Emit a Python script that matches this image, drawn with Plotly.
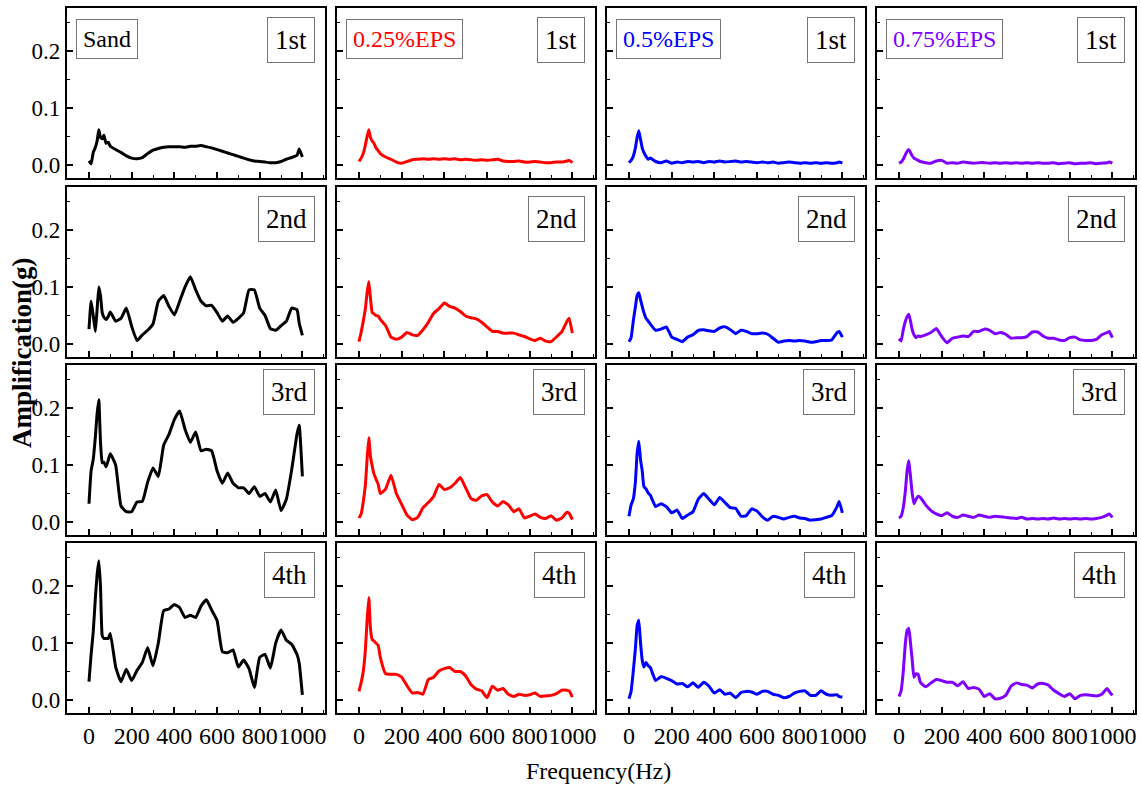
import plotly.graph_objects as go
from plotly.subplots import make_subplots

# ---------------- data ----------------
freq = [0, 10, 20, 30, 38, 46, 54, 62, 70, 80, 90, 100,
        125, 150, 175, 200, 225, 250, 275, 300, 325, 350, 375, 400,
        425, 450, 475, 500, 525, 550, 575, 600, 625, 650, 675, 700,
        725, 750, 775, 800, 825, 850, 875, 900, 925, 950, 975, 985, 1000]

materials = ["Sand", "0.25%EPS", "0.5%EPS", "0.75%EPS"]
orders = ["1st", "2nd", "3rd", "4th"]
colors = ["#000000", "#ff0000", "#0000ff", "#7f00ff"]

sand_1st = [0.007, 0.002, 0.022, 0.031, 0.042, 0.062, 0.048, 0.046, 0.052, 0.038, 0.040, 0.033,
            0.027, 0.022, 0.016, 0.012, 0.011, 0.013, 0.020, 0.026, 0.029, 0.031, 0.032, 0.032,
            0.032, 0.031, 0.033, 0.033, 0.034, 0.032, 0.030, 0.027, 0.024, 0.021, 0.018, 0.015,
            0.012, 0.009, 0.007, 0.006, 0.005, 0.004, 0.004, 0.006, 0.010, 0.013, 0.017, 0.028, 0.014]
sand_2nd = [0.026, 0.075, 0.050, 0.022, 0.060, 0.100, 0.085, 0.055, 0.047, 0.043, 0.048, 0.056,
            0.040, 0.045, 0.063, 0.031, 0.006, 0.016, 0.024, 0.035, 0.075, 0.085, 0.066, 0.051,
            0.075, 0.100, 0.118, 0.095, 0.075, 0.067, 0.068, 0.055, 0.040, 0.049, 0.038, 0.045,
            0.055, 0.095, 0.095, 0.063, 0.050, 0.027, 0.024, 0.032, 0.040, 0.063, 0.060, 0.037, 0.015]
sand_3rd = [0.032, 0.090, 0.110, 0.150, 0.190, 0.215, 0.140, 0.104, 0.105, 0.097, 0.108, 0.120,
            0.100, 0.028, 0.018, 0.018, 0.035, 0.036, 0.070, 0.095, 0.080, 0.135, 0.154, 0.180,
            0.195, 0.163, 0.140, 0.158, 0.125, 0.128, 0.125, 0.090, 0.068, 0.086, 0.068, 0.060,
            0.060, 0.050, 0.062, 0.045, 0.050, 0.035, 0.056, 0.020, 0.040, 0.092, 0.155, 0.170, 0.080]
sand_4th = [0.032, 0.080, 0.120, 0.180, 0.220, 0.245, 0.200, 0.113, 0.108, 0.108, 0.108, 0.117,
            0.058, 0.032, 0.054, 0.034, 0.052, 0.066, 0.092, 0.060, 0.100, 0.157, 0.160, 0.168,
            0.162, 0.145, 0.149, 0.145, 0.165, 0.176, 0.158, 0.140, 0.085, 0.083, 0.088, 0.058,
            0.070, 0.055, 0.022, 0.075, 0.080, 0.056, 0.100, 0.123, 0.105, 0.098, 0.080, 0.065, 0.009]

eps025_1st = [0.006, 0.012, 0.020, 0.035, 0.050, 0.062, 0.048, 0.042, 0.038, 0.030, 0.025, 0.020,
              0.014, 0.010, 0.005, 0.003, 0.006, 0.009, 0.010, 0.011, 0.010, 0.011, 0.010, 0.011,
              0.010, 0.011, 0.009, 0.010, 0.009, 0.008, 0.009, 0.008, 0.009, 0.010, 0.007, 0.006,
              0.006, 0.007, 0.005, 0.005, 0.006, 0.005, 0.004, 0.004, 0.005, 0.005, 0.007, 0.008, 0.004]
eps025_2nd = [0.004, 0.020, 0.040, 0.062, 0.090, 0.110, 0.080, 0.055, 0.053, 0.050, 0.049, 0.043,
              0.032, 0.012, 0.008, 0.012, 0.020, 0.016, 0.015, 0.025, 0.038, 0.054, 0.062, 0.072,
              0.066, 0.063, 0.057, 0.049, 0.046, 0.044, 0.038, 0.030, 0.022, 0.022, 0.019, 0.019,
              0.019, 0.016, 0.013, 0.009, 0.006, 0.010, 0.005, 0.004, 0.012, 0.021, 0.040, 0.045, 0.019]
eps025_3rd = [0.007, 0.014, 0.035, 0.065, 0.110, 0.148, 0.115, 0.098, 0.085, 0.075, 0.066, 0.050,
              0.058, 0.082, 0.050, 0.031, 0.012, 0.004, 0.008, 0.025, 0.034, 0.045, 0.066, 0.057,
              0.060, 0.068, 0.078, 0.060, 0.041, 0.038, 0.046, 0.048, 0.035, 0.028, 0.036, 0.030,
              0.018, 0.023, 0.007, 0.010, 0.014, 0.008, 0.006, 0.011, 0.003, 0.007, 0.017, 0.015, 0.004]
eps025_4th = [0.015, 0.030, 0.050, 0.088, 0.140, 0.180, 0.125, 0.106, 0.104, 0.100, 0.096, 0.075,
              0.046, 0.045, 0.045, 0.040, 0.025, 0.012, 0.013, 0.010, 0.036, 0.040, 0.051, 0.055,
              0.057, 0.050, 0.050, 0.042, 0.027, 0.019, 0.016, 0.004, 0.024, 0.017, 0.020, 0.010,
              0.006, 0.010, 0.008, 0.009, 0.012, 0.006, 0.007, 0.008, 0.011, 0.017, 0.017, 0.016, 0.005]

eps05_1st = [0.004, 0.008, 0.015, 0.030, 0.048, 0.060, 0.045, 0.030, 0.022, 0.015, 0.010, 0.012,
             0.006, 0.004, 0.007, 0.003, 0.005, 0.004, 0.006, 0.005, 0.006, 0.004, 0.006, 0.005,
             0.007, 0.005, 0.006, 0.007, 0.005, 0.006, 0.005, 0.004, 0.005, 0.004, 0.005, 0.003,
             0.004, 0.005, 0.004, 0.003, 0.004, 0.003, 0.004, 0.003, 0.004, 0.003, 0.004, 0.005, 0.003]
eps05_2nd = [0.004, 0.011, 0.040, 0.065, 0.085, 0.090, 0.078, 0.066, 0.055, 0.045, 0.040, 0.035,
             0.024, 0.026, 0.030, 0.012, 0.008, 0.004, 0.012, 0.016, 0.024, 0.025, 0.023, 0.022,
             0.028, 0.030, 0.025, 0.018, 0.024, 0.022, 0.018, 0.018, 0.019, 0.017, 0.010, 0.003,
             0.005, 0.006, 0.005, 0.006, 0.005, 0.003, 0.004, 0.006, 0.006, 0.007, 0.020, 0.022, 0.012]
eps05_3rd = [0.010, 0.030, 0.040, 0.070, 0.120, 0.142, 0.110, 0.090, 0.062, 0.058, 0.051, 0.047,
             0.027, 0.032, 0.027, 0.016, 0.021, 0.006, 0.012, 0.018, 0.040, 0.050, 0.040, 0.030,
             0.043, 0.034, 0.025, 0.024, 0.010, 0.011, 0.023, 0.019, 0.009, 0.003, 0.010, 0.008,
             0.005, 0.008, 0.010, 0.007, 0.006, 0.003, 0.004, 0.005, 0.008, 0.011, 0.027, 0.036, 0.016]
eps05_4th = [0.002, 0.015, 0.050, 0.090, 0.130, 0.140, 0.101, 0.070, 0.058, 0.066, 0.060, 0.057,
             0.034, 0.041, 0.038, 0.034, 0.028, 0.029, 0.023, 0.030, 0.022, 0.031, 0.024, 0.012,
             0.018, 0.010, 0.012, 0.004, 0.013, 0.015, 0.014, 0.010, 0.015, 0.015, 0.010, 0.008,
             0.004, 0.006, 0.012, 0.015, 0.016, 0.008, 0.008, 0.016, 0.010, 0.008, 0.009, 0.006, 0.005]

eps075_1st = [0.003, 0.005, 0.010, 0.018, 0.024, 0.027, 0.022, 0.016, 0.012, 0.010, 0.008, 0.006,
              0.004, 0.003, 0.007, 0.008, 0.003, 0.004, 0.003, 0.005, 0.004, 0.003, 0.004, 0.004,
              0.003, 0.004, 0.003, 0.004, 0.003, 0.004, 0.003, 0.004, 0.003, 0.004, 0.003, 0.003,
              0.004, 0.002, 0.003, 0.004, 0.002, 0.003, 0.003, 0.004, 0.002, 0.003, 0.004, 0.005, 0.003]
eps075_2nd = [0.009, 0.005, 0.025, 0.040, 0.048, 0.052, 0.040, 0.025, 0.016, 0.011, 0.014, 0.013,
              0.016, 0.020, 0.027, 0.013, 0.002, 0.010, 0.012, 0.014, 0.013, 0.022, 0.022, 0.026,
              0.024, 0.018, 0.020, 0.017, 0.010, 0.011, 0.011, 0.013, 0.021, 0.021, 0.014, 0.010,
              0.010, 0.007, 0.006, 0.011, 0.012, 0.007, 0.006, 0.006, 0.008, 0.016, 0.020, 0.022, 0.011]
eps075_3rd = [0.007, 0.010, 0.025, 0.055, 0.090, 0.108, 0.080, 0.050, 0.032, 0.040, 0.045, 0.043,
              0.030, 0.020, 0.014, 0.011, 0.016, 0.010, 0.008, 0.012, 0.010, 0.008, 0.012, 0.010,
              0.008, 0.010, 0.009, 0.008, 0.007, 0.006, 0.008, 0.005, 0.006, 0.005, 0.006, 0.005,
              0.007, 0.005, 0.006, 0.005, 0.006, 0.005, 0.006, 0.005, 0.006, 0.008, 0.012, 0.014, 0.008]
eps075_4th = [0.006, 0.016, 0.050, 0.100, 0.122, 0.126, 0.100, 0.070, 0.040, 0.046, 0.045, 0.031,
              0.023, 0.030, 0.036, 0.034, 0.031, 0.031, 0.025, 0.032, 0.020, 0.022, 0.019, 0.006,
              0.011, 0.002, 0.003, 0.008, 0.024, 0.030, 0.027, 0.026, 0.021, 0.028, 0.029, 0.026,
              0.017, 0.011, 0.006, 0.011, 0.002, 0.008, 0.009, 0.008, 0.007, 0.010, 0.020, 0.015, 0.008]

series = [
    [sand_1st, eps025_1st, eps05_1st, eps075_1st],
    [sand_2nd, eps025_2nd, eps05_2nd, eps075_2nd],
    [sand_3rd, eps025_3rd, eps05_3rd, eps075_3rd],
    [sand_4th, eps025_4th, eps05_4th, eps075_4th],
]

x_ticks = [0, 200, 400, 600, 800, 1000]
y_ticks = [0.0, 0.1, 0.2]

# ---------------- layout geometry ----------------
W, H = 1141, 788
col_left = [67, 337, 607, 877]
row_top = [8, 187, 365, 543]
pw, ph = 258, 170
FONT = "Liberation Serif, Times New Roman, serif"

fig = make_subplots(rows=4, cols=4)

for r in range(4):
    for c in range(4):
        fig.add_trace(
            go.Scatter(x=freq, y=series[r][c], mode="lines",
                       line=dict(color=colors[c], width=3, shape="spline", smoothing=0.4),
                       showlegend=False, hoverinfo="skip"),
            row=r + 1, col=c + 1)

annotations = []
for r in range(4):
    for c in range(4):
        n = r * 4 + c + 1
        sfx = "" if n == 1 else str(n)
        xd = [col_left[c] / W, (col_left[c] + pw) / W]
        yd = [1 - (row_top[r] + ph) / H, 1 - row_top[r] / H]
        fig.update_layout({
            f"xaxis{sfx}": dict(
                domain=xd, range=[-103, 1106], tickvals=x_ticks, tickangle=0,
                showticklabels=(r == 3), ticks="inside", ticklen=6, tickwidth=1.5,
                tickcolor="black", showline=True, linecolor="black", linewidth=2.2,
                mirror=True, showgrid=False, zeroline=False, automargin=False,
                minor=dict(ticks="inside", dtick=100, ticklen=3, tickwidth=1.2, tickcolor="black"),
                tickfont=dict(family=FONT, size=24, color="black"),
            ),
            f"yaxis{sfx}": dict(
                domain=yd, range=[-0.023, 0.276], tickvals=y_ticks, tickformat=".1f",
                showticklabels=(c == 0), ticks="inside", ticklen=6, tickwidth=1.5,
                tickcolor="black", showline=True, linecolor="black", linewidth=2.2,
                mirror=True, showgrid=False, zeroline=False, automargin=False,
                minor=dict(ticks="inside", dtick=0.05, ticklen=3, tickwidth=1.2, tickcolor="black"),
                tickfont=dict(family=FONT, size=23, color="black"),
            ),
        })
        ytop = 0.975 if r == 2 else 0.947
        annotations.append(dict(
            text=orders[r], xref=f"x{sfx} domain", yref=f"y{sfx} domain",
            x=0.962, y=ytop, xanchor="right", yanchor="top", showarrow=False,
            font=dict(family=FONT, size=27, color="black"),
            bordercolor="#777777", borderwidth=1, borderpad=7, bgcolor="white"))
        if r == 0:
            annotations.append(dict(
                text=materials[c], xref=f"x{sfx} domain", yref=f"y{sfx} domain",
                x=0.035, y=0.935, xanchor="left", yanchor="top", showarrow=False,
                font=dict(family=FONT, size=24, color=colors[c]),
                bordercolor="#777777", borderwidth=1, borderpad=6, bgcolor="white"))

annotations.append(dict(
    text="Frequency(Hz)", xref="paper", yref="paper", x=598 / W, y=1 - 771 / H,
    xanchor="center", yanchor="middle", showarrow=False,
    font=dict(family=FONT, size=24, color="black")))
annotations.append(dict(
    text="<b>Amplification(g)</b>", xref="paper", yref="paper", x=22 / W, y=1 - 353 / H,
    xanchor="center", yanchor="middle", showarrow=False, textangle=-90,
    font=dict(family=FONT, size=27, color="black")))

fig.update_layout(
    width=W, height=H, autosize=False,
    margin=dict(l=0, r=0, t=0, b=0, pad=0),
    paper_bgcolor="white", plot_bgcolor="white",
    annotations=annotations,
)

fig.write_html("out.html", config={"displayModeBar": False},
               post_script="document.body.style.margin='0';document.body.style.padding='0';")
